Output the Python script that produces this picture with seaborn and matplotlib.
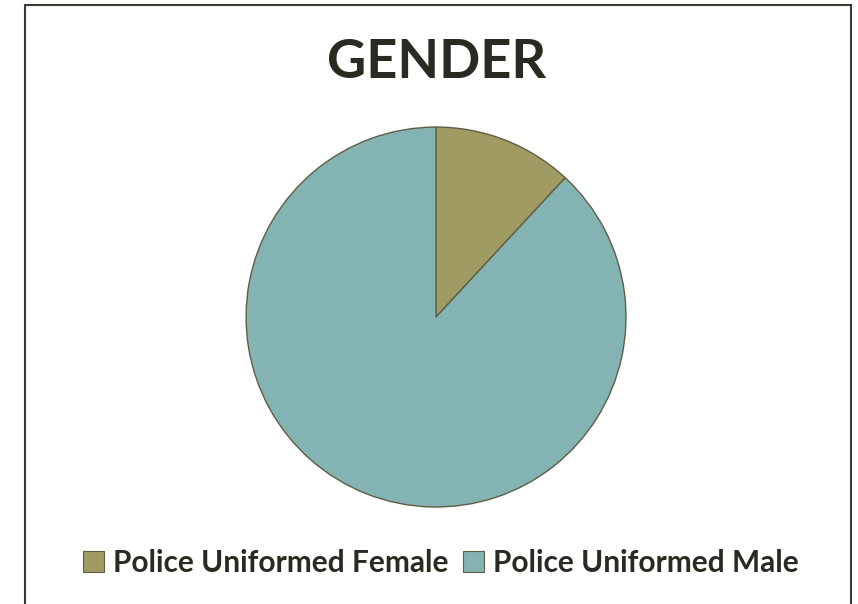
import matplotlib
matplotlib.use("Agg")
import matplotlib.pyplot as plt
import seaborn as sns
from matplotlib.patches import Rectangle, Patch

categories = ["Police Uniformed Female", "Police Uniformed Male"]
values = [11.9, 88.1]
colors = ["#A09B63", "#83B3B2"]
title = "GENDER"

sns.set_theme(style="white")
plt.rcParams['font.family'] = ['Lato', 'DejaVu Sans']
text_color = "#2B2A22"

fig = plt.figure(figsize=(8.58, 6.04), dpi=100)
fig.patch.set_facecolor("white")

ax = fig.add_axes([0.2867, 0.1606, 0.443, 0.629])
ax.pie(values, colors=colors, startangle=90, counterclock=False,
       wedgeprops=dict(edgecolor="#5E5E45", linewidth=1.0))
ax.set_xlim(-1.0, 1.0)
ax.set_ylim(-1.0, 1.0)
ax.set_aspect("equal")
ax.axis("off")

fig.text(437/858, 1 - 63/604, title, ha="center", va="center",
         fontsize=39, fontweight="bold", color=text_color)

handles = [Patch(facecolor=c, edgecolor="#5E5E45", linewidth=0.8) for c in colors]
leg = fig.legend(handles, categories, loc="center", bbox_to_anchor=(441/858, 1 - 563/604),
                 ncol=2, frameon=False, handlelength=0.7, handleheight=0.7,
                 handletextpad=0.3, columnspacing=0.5, prop=dict(weight="bold", size=21.5))
for t in leg.get_texts():
    t.set_color(text_color)

border = Rectangle((25/858, -0.05), (851-25)/858, 1.05 - 5/604, transform=fig.transFigure,
                   fill=False, edgecolor="#3A3A30", linewidth=1.5)
fig.patches.append(border)

fig.savefig("out.png", dpi=100)
